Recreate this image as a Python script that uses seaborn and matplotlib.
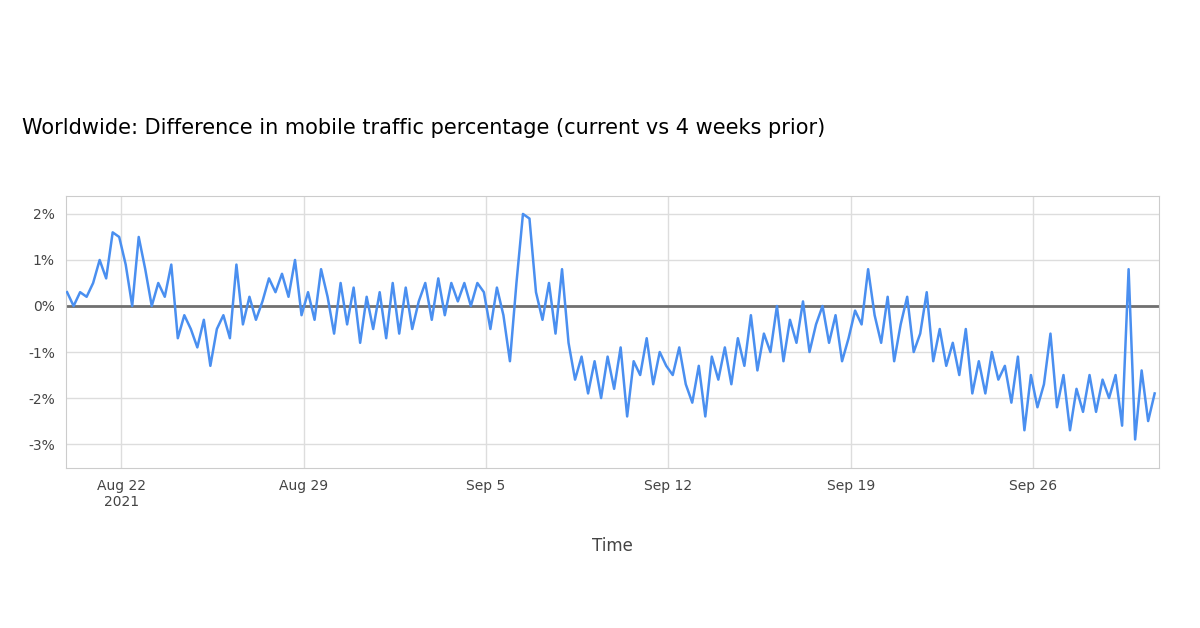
import pandas as pd
import matplotlib.pyplot as plt
import matplotlib.dates as mdates
import seaborn as sns

# 6-hourly readings of the difference (in %)
start_time = "2021-08-19 22:00"
diff_pct = [
    0.3, 0.0, 0.3, 0.2,   0.5, 1.0, 0.6, 1.6,   1.5, 0.9, 0.0, 1.5,
    0.8, 0.0, 0.5, 0.2,   0.9, -0.7, -0.2, -0.5, -0.9, -0.3, -1.3, -0.5,
    -0.2, -0.7, 0.9, -0.4, 0.2, -0.3, 0.1, 0.6,  0.3, 0.7, 0.2, 1.0,
    -0.2, 0.3, -0.3, 0.8, 0.2, -0.6, 0.5, -0.4,  0.4, -0.8, 0.2, -0.5,
    0.3, -0.7, 0.5, -0.6, 0.4, -0.5, 0.1, 0.5,   -0.3, 0.6, -0.2, 0.5,
    0.1, 0.5, 0.0, 0.5,   0.3, -0.5, 0.4, -0.2,  -1.2, 0.5, 2.0, 1.9,
    0.3, -0.3, 0.5, -0.6, 0.8, -0.8, -1.6, -1.1, -1.9, -1.2, -2.0, -1.1,
    -1.8, -0.9, -2.4, -1.2, -1.5, -0.7, -1.7, -1.0, -1.3, -1.5, -0.9, -1.7,
    -2.1, -1.3, -2.4, -1.1, -1.6, -0.9, -1.7, -0.7, -1.3, -0.2, -1.4, -0.6,
    -1.0, 0.0, -1.2, -0.3, -0.8, 0.1, -1.0, -0.4, 0.0, -0.8, -0.2, -1.2,
    -0.7, -0.1, -0.4, 0.8, -0.2, -0.8, 0.2, -1.2, -0.4, 0.2, -1.0, -0.6,
    0.3, -1.2, -0.5, -1.3, -0.8, -1.5, -0.5, -1.9, -1.2, -1.9, -1.0, -1.6,
    -1.3, -2.1, -1.1, -2.7, -1.5, -2.2, -1.7, -0.6, -2.2, -1.5, -2.7, -1.8,
    -2.3, -1.5, -2.3, -1.6, -2.0, -1.5, -2.6, 0.8, -2.9, -1.4, -2.5, -1.9,
]
tick_dates = ["2021-08-22", "2021-08-29", "2021-09-05", "2021-09-12", "2021-09-19", "2021-09-26"]
tick_labels = ["Aug 22\n2021", "Aug 29", "Sep 5", "Sep 12", "Sep 19", "Sep 26"]
y_ticks = [2, 1, 0, -1, -2, -3]

df = pd.DataFrame({
    "time": pd.date_range(start_time, periods=len(diff_pct), freq="6h"),
    "diff": diff_pct,
})

fig = plt.figure(figsize=(12, 6.28), dpi=100)
ax = fig.add_axes([66 / 1200, 1 - 468 / 628, (1159 - 66) / 1200, (468 - 196) / 628])

ax.axhline(0, color="#707070", lw=2, zorder=2)
sns.lineplot(data=df, x="time", y="diff", ax=ax, color="#4a8ff0", lw=1.8, zorder=3)

ax.set_xlim(pd.Timestamp("2021-08-19 21:00"), pd.Timestamp("2021-09-30 20:00"))
ax.set_ylim(-3.52, 2.39)
ax.set_yticks(y_ticks)
ax.set_yticklabels([f"{v}%" for v in y_ticks])
ax.set_xticks(pd.to_datetime(tick_dates))
ax.set_xticklabels(tick_labels)
ax.grid(True, color="#dddddd", lw=1)
ax.tick_params(length=0, labelsize=10, colors="#444444", pad=8)
for s in ax.spines.values():
    s.set_color("#cccccc")
ax.set_xlabel("Time", fontsize=12, color="#444444", labelpad=20)
ax.set_ylabel("")

fig.text(22 / 1200, 1 - 128 / 628, "Worldwide: Difference in mobile traffic percentage (current vs 4 weeks prior)",
         fontsize=15, va="center", ha="left", color="black")

fig.savefig("out.png")
